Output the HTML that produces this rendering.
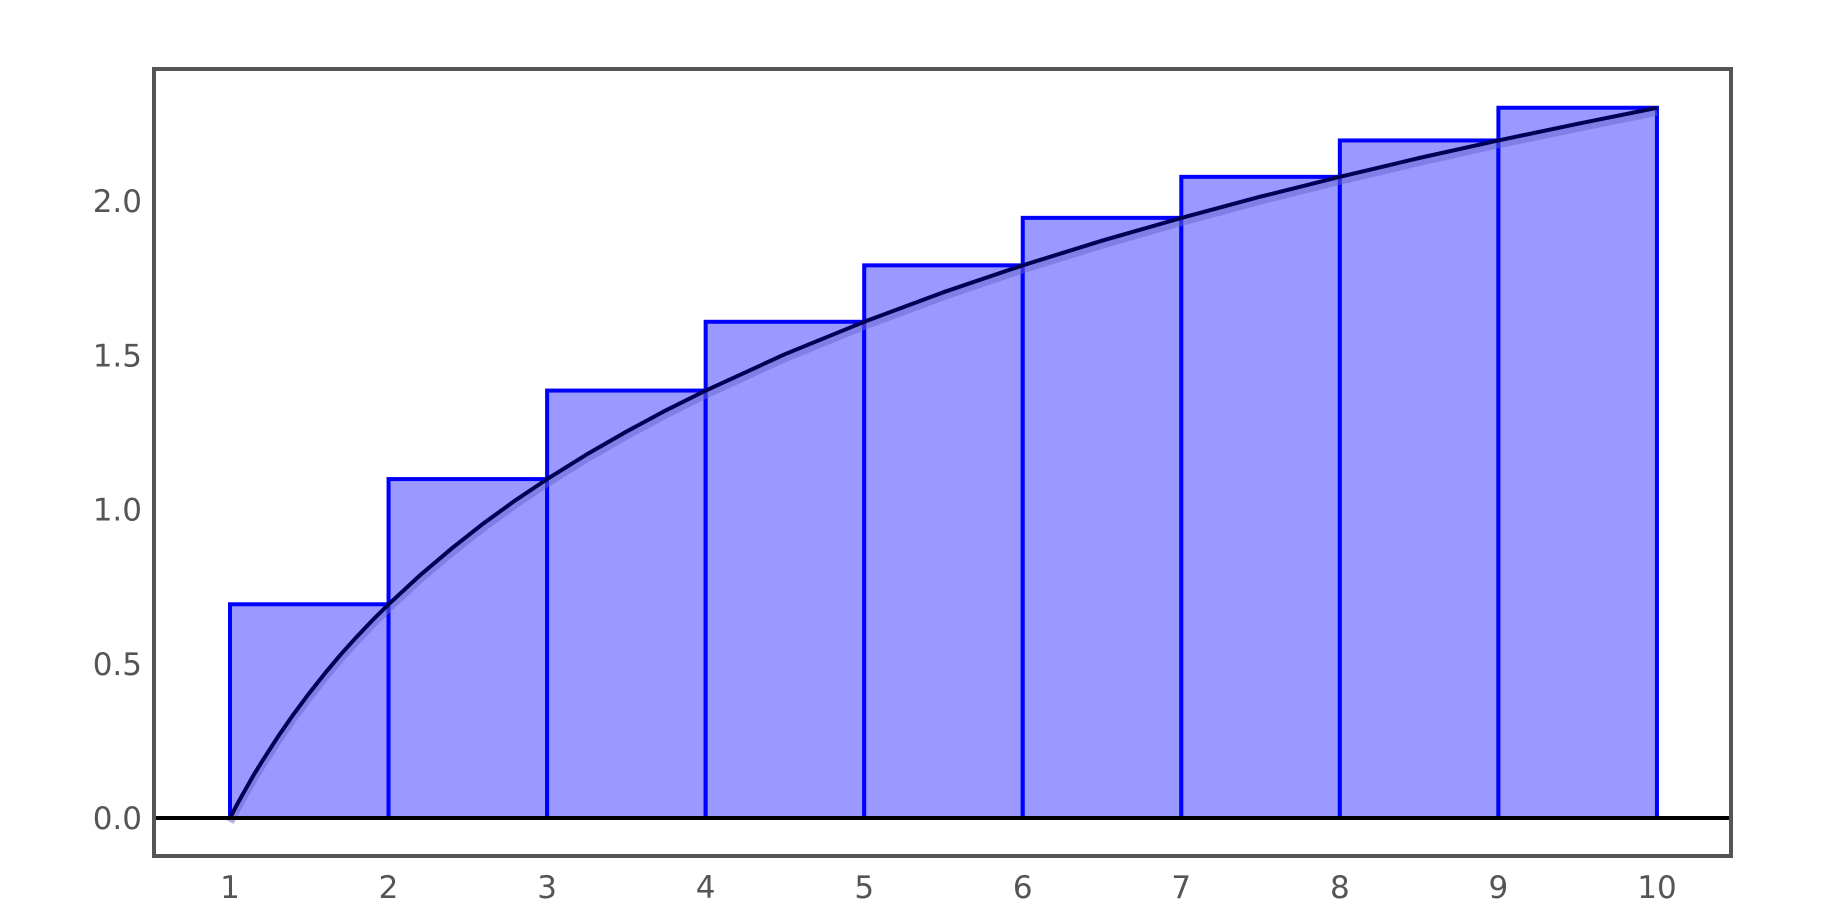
<!DOCTYPE html>
<html><head><meta charset="utf-8"><style>
html,body{margin:0;padding:0;background:#fff;}
svg{display:block;}
text{font-family:"DejaVu Sans","Liberation Sans",sans-serif;font-size:31px;fill:#555;}
</style></head><body>
<svg id="chart" width="1846" height="912" xmlns="http://www.w3.org/2000/svg">
<g id="bars"></g>
<g id="curve"></g>
<g id="axes"></g>
</svg>
<script>
const xTicks = [1,2,3,4,5,6,7,8,9,10];
const yTicks = [0,0.5,1.0,1.5,2.0];
const yTickLabels = ["0.0","0.5","1.0","1.5","2.0"];
const barStarts = [1,2,3,4,5,6,7,8,9];
const barHeights = [0.693,1.099,1.386,1.609,1.792,1.946,2.079,2.197,2.303];
const curveX = [1,1.05,1.1,1.15,1.2,1.3,1.4,1.5,1.6,1.7,1.8,1.9,2,2.2,2.4,2.6,2.8,3,3.25,3.5,3.75,4,4.5,5,5.5,6,6.5,7,7.5,8,8.5,9,9.5,10];
const curveY = [0,0.049,0.095,0.140,0.182,0.262,0.336,0.405,0.470,0.531,0.588,0.642,0.693,0.788,0.875,0.956,1.030,1.099,1.179,1.253,1.322,1.386,1.504,1.609,1.705,1.792,1.872,1.946,2.015,2.079,2.140,2.197,2.251,2.303];

const NS="http://www.w3.org/2000/svg";
const X0=230, XS=158.55, Y0=818, YS=308.4;
const xs=v=>X0+(v-1)*XS, ys=v=>Y0-v*YS;
function mk(tag,attrs,parent){const e=document.createElementNS(NS,tag);for(const k in attrs)e.setAttribute(k,attrs[k]);parent.appendChild(e);return e;}
const bars=document.getElementById('bars'), curve=document.getElementById('curve'), axes=document.getElementById('axes');

barStarts.forEach((s,i)=>{
  const r=mk('rect',{x:xs(s),y:ys(barHeights[i]),width:xs(s+1)-xs(s),height:Y0-ys(barHeights[i]),fill:'#9999ff',stroke:'#0000ff','stroke-width':4},bars);
  
  
});

const d=curveX.map((x,i)=>(i?'L':'M')+xs(x).toFixed(1)+' '+ys(curveY[i]).toFixed(1)).join(' ');
const sh=mk('path',{d:d,fill:'none',stroke:'#6666cc','stroke-opacity':0.5,'stroke-width':8,'stroke-linejoin':'round',transform:'translate(0,4)'},curve);


const ln=mk('path',{d:d,fill:'none',stroke:'#000055','stroke-width':4,'stroke-linejoin':'round'},curve);



const zl=mk('line',{x1:154,x2:1731,y1:Y0,y2:Y0,stroke:'#000','stroke-width':4},axes);


const fr=mk('rect',{x:154,y:69,width:1577,height:787,fill:'none',stroke:'#555','stroke-width':4},axes);



yTicks.forEach((v,i)=>{
  const t=mk('text',{x:142,y:ys(v)+11,'text-anchor':'end'},axes);
  t.textContent=yTickLabels[i];
  
  
});
xTicks.forEach(v=>{
  const t=mk('text',{x:xs(v),y:898,'text-anchor':'middle'},axes);
  t.textContent=String(v);
  
  
});
</script>
</body></html>
